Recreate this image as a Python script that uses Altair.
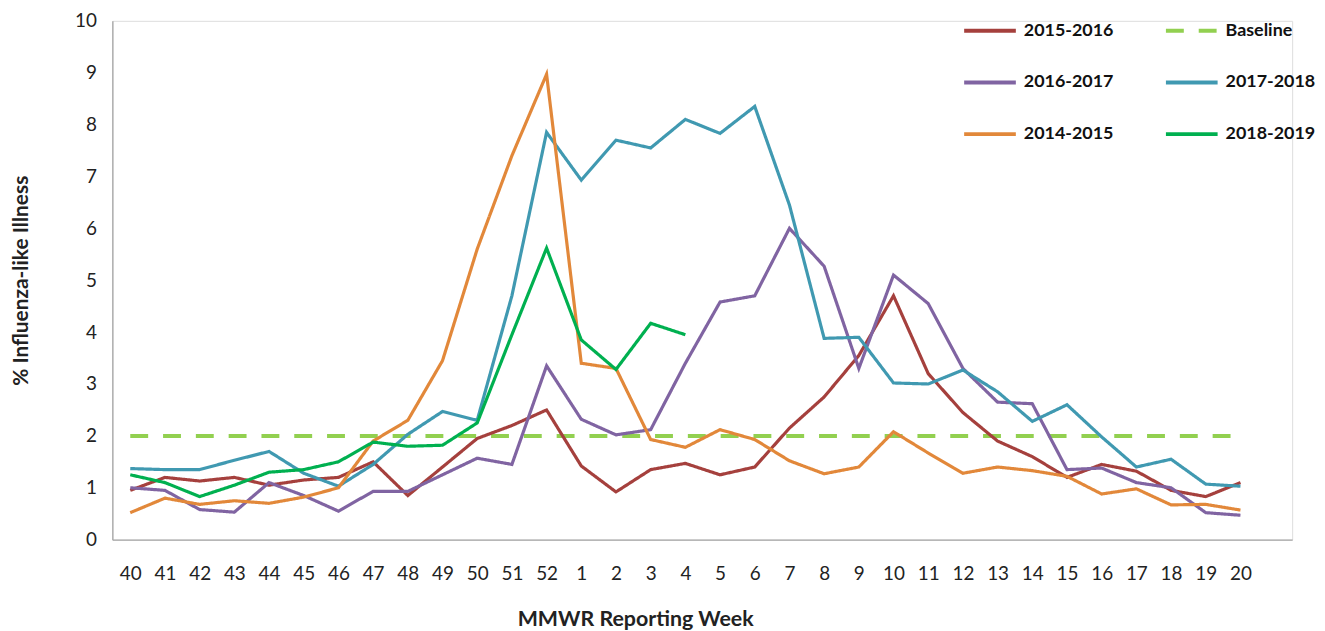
import altair as alt
import pandas as pd

weeks = ["40", "41", "42", "43", "44", "45", "46", "47", "48", "49", "50", "51", "52",
         "1", "2", "3", "4", "5", "6", "7", "8", "9", "10", "11", "12", "13", "14",
         "15", "16", "17", "18", "19", "20"]

s2015_2016 = [0.95, 1.2, 1.13, 1.2, 1.05, 1.15, 1.2, 1.5, 0.85, 1.4, 1.95, 2.2, 2.5,
              1.42, 0.92, 1.35, 1.47, 1.25, 1.4, 2.15, 2.75, 3.55, 4.7, 3.2, 2.45, 1.9,
              1.6, 1.2, 1.45, 1.32, 0.95, 0.83, 1.1]
s2016_2017 = [1.0, 0.95, 0.58, 0.53, 1.1, 0.85, 0.55, 0.93, 0.93, 1.25, 1.57, 1.45, 3.35,
              2.32, 2.02, 2.12, 3.4, 4.58, 4.7, 6.0, 5.27, 3.3, 5.1, 4.55, 3.3, 2.65,
              2.62, 1.35, 1.38, 1.1, 1.0, 0.52, 0.47]
s2017_2018 = [1.37, 1.35, 1.35, 1.53, 1.7, 1.28, 1.03, 1.45, 2.03, 2.47, 2.3, 4.7, 7.85,
              6.93, 7.7, 7.55, 8.1, 7.83, 8.35, 6.45, 3.88, 3.9, 3.02, 3.0, 3.27, 2.85,
              2.28, 2.6, 1.98, 1.4, 1.55, 1.07, 1.03]
s2014_2015 = [0.52, 0.8, 0.68, 0.75, 0.7, 0.82, 1.0, 1.9, 2.3, 3.45, 5.6, 7.4, 8.97,
              3.4, 3.3, 1.93, 1.78, 2.12, 1.93, 1.52, 1.27, 1.4, 2.08, 1.67, 1.28, 1.4,
              1.33, 1.22, 0.88, 0.98, 0.67, 0.68, 0.57]
s2018_2019 = [1.25, 1.1, 0.83, 1.05, 1.3, 1.35, 1.5, 1.88, 1.8, 1.82, 2.25, 3.95, 5.62,
              3.85, 3.28, 4.17, 3.95]
baseline_value = 2.0

# legend is filled column by column (3 rows x 2 columns)
series_names = ["2015-2016", "2016-2017", "2014-2015", "Baseline", "2017-2018", "2018-2019"]
series_colors = ["#A5403D", "#8064A2", "#E2883A", "#92D050", "#4099B1", "#00B050"]
series_dash = [[1, 0], [1, 0], [1, 0], [18, 15], [1, 0], [1, 0]]

rows = []
for name, vals in [("2015-2016", s2015_2016), ("2016-2017", s2016_2017),
                   ("2017-2018", s2017_2018), ("2014-2015", s2014_2015),
                   ("2018-2019", s2018_2019)]:
    for i, v in enumerate(vals):
        rows.append({"idx": i, "week": weeks[i], "value": v, "series": name})
lines_df = pd.DataFrame(rows)
base_df = pd.DataFrame([{"idx": i, "week": w, "value": baseline_value, "series": "Baseline"}
                        for i, w in enumerate(weeks)])

label_expr = "[" + ",".join("'%s'" % w for w in weeks) + "][datum.value]"

FONT = "Lato"

x_enc = alt.X("idx:Q",
              scale=alt.Scale(domain=[-0.516, 33.49], nice=False, zero=False),
              axis=alt.Axis(values=list(range(len(weeks))), labelExpr=label_expr,
                            title="MMWR Reporting Week", grid=False, ticks=False, tickSize=0,
                            labelFontSize=19, labelPadding=25, labelColor="#222222",
                            labelFont=FONT, titleFont=FONT, titleFontSize=21.5,
                            titleFontWeight="bold", titleColor="#222222", titlePadding=25,
                            titleX=526, titleAlign="center",
                            domainColor="#A6A6A6", domainWidth=1.3))
y_enc = alt.Y("value:Q",
              scale=alt.Scale(domain=[0, 10], nice=False),
              axis=alt.Axis(values=list(range(0, 11)), title="% Influenza-like Illness",
                            grid=False, ticks=False, tickSize=0, labelFontSize=19,
                            labelPadding=16, labelColor="#222222", labelFont=FONT,
                            titleFont=FONT, titleFontSize=21, titleFontWeight="bold",
                            titleColor="#222222", titleX=-91, titleY=261,
                            titleBaseline="middle", titleAlign="center",
                            domainColor="#A6A6A6", domainWidth=1.3))

legend_cfg = dict(title=None, orient="none", legendX=855, legendY=-18,
                  columns=2, columnPadding=44, rowPadding=15,
                  symbolType="stroke", symbolSize=2704,
                  symbolStrokeWidth=4, labelFontSize=18,
                  labelFontWeight="bold", labelFont=FONT,
                  labelColor="#111111", labelOffset=6, padding=0)

color_enc = alt.Color("series:N",
                      scale=alt.Scale(domain=series_names, range=series_colors),
                      legend=alt.Legend(**legend_cfg))
dash_enc = alt.StrokeDash("series:N",
                          scale=alt.Scale(domain=series_names, range=series_dash),
                          legend=alt.Legend(**legend_cfg))

baseline_layer = alt.Chart(base_df).mark_line(strokeWidth=4).encode(
    x=x_enc, y=y_enc, color=color_enc, strokeDash=dash_enc)
lines_layer = alt.Chart(lines_df).mark_line(strokeWidth=3.2).encode(
    x=x_enc, y=y_enc, color=color_enc, strokeDash=dash_enc, detail="series:N")

chart = alt.layer(baseline_layer, lines_layer).properties(
    width=1187, height=522,
    autosize=alt.AutoSizeParams(type="none"),
    padding={"left": 105, "top": 11, "right": 25, "bottom": 90},
).configure_view(stroke=None).configure(background="white")

chart.save("out.html", embed_options={"renderer": "svg", "actions": False})
